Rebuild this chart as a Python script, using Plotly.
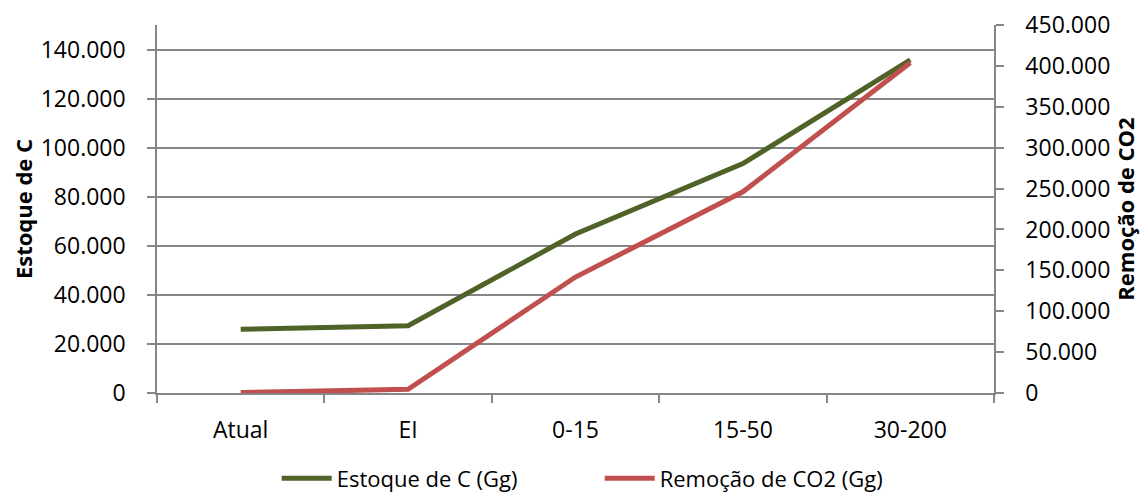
import plotly.graph_objects as go

categories = ["Atual", "EI", "0-15", "15-50", "30-200"]
estoque_c = [26000, 27400, 64800, 93500, 135800]
remocao_co2 = [500, 4500, 141800, 246000, 403800]

left_ticks = list(range(0, 140001, 20000))
left_labels = [f"{v:,}".replace(",", ".") for v in left_ticks]
right_ticks = list(range(0, 450001, 50000))
right_labels = [f"{v:,}".replace(",", ".") for v in right_ticks]

FONT = "Open Sans"
AX = "#868686"

fig = go.Figure()
fig.add_trace(go.Scatter(x=categories, y=estoque_c, mode="lines", name="Estoque de C (Gg)",
                         line=dict(color="#4F6228", width=5), yaxis="y"))
fig.add_trace(go.Scatter(x=categories, y=remocao_co2, mode="lines", name="Remoção de CO2 (Gg)",
                         line=dict(color="#C0504D", width=5), yaxis="y2"))

fig.update_layout(
    width=1147, height=495,
    margin=dict(l=157, r=153, t=25, b=102, autoexpand=False),
    paper_bgcolor="white", plot_bgcolor="white",
    font=dict(family=FONT, size=23, color="#000000"),
    showlegend=True,
    legend=dict(orientation="h", x=0.143, xanchor="left", y=-0.232, yanchor="middle",
                font=dict(size=22), itemwidth=50, entrywidth=258, tracegroupgap=0),
    xaxis=dict(type="category", range=[-0.5, 4.5], tickson="boundaries",
               showline=True, linecolor=AX, linewidth=1.5, ticks="outside", ticklen=8,
               tickcolor=AX, tickwidth=1.5, showgrid=False, zeroline=False,
               ticklabelstandoff=16, tickfont=dict(size=23)),
    yaxis=dict(range=[0, 150000], tickvals=left_ticks, ticktext=left_labels,
               showline=True, linecolor=AX, linewidth=1.5, ticks="outside", ticklen=8,
               tickcolor=AX, tickwidth=1.5, showgrid=True, gridcolor=AX, gridwidth=1.5,
               zeroline=False, ticklabelstandoff=17, tickfont=dict(size=23),
               title=dict(text="<b>Estoque de C</b>", font=dict(size=22), standoff=2)),
    yaxis2=dict(range=[0, 450000], tickvals=right_ticks, ticktext=right_labels,
                overlaying="y", side="right", showline=True, linecolor=AX, linewidth=1.5,
                ticks="outside", ticklen=8, tickcolor=AX, tickwidth=1.5, showgrid=False,
                zeroline=False, ticklabelstandoff=17, tickfont=dict(size=23),
                title=dict(text="<b>Remoção de CO2</b>", font=dict(size=22), standoff=7)),
)

fig.write_html("out.html")
